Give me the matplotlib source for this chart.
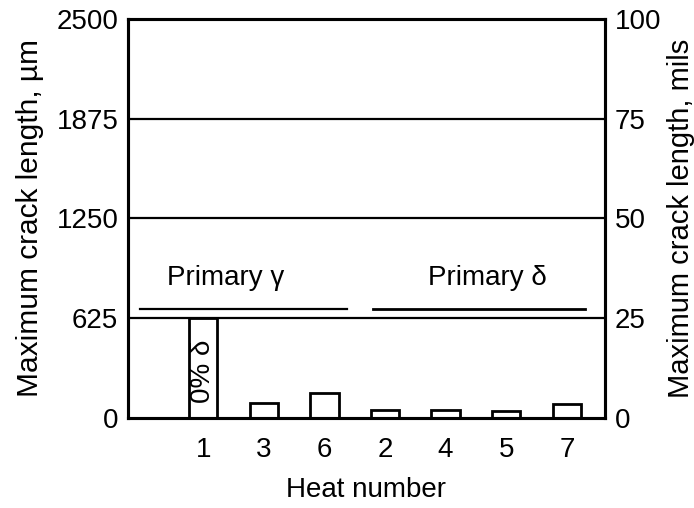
import matplotlib.pyplot as plt

plt.rcParams['font.family'] = ['Liberation Sans', 'DejaVu Sans']

# data
heat_labels = ['1', '3', '6', '2', '4', '5', '7']
crack_um = [625, 95, 155, 50, 50, 45, 90]
y_ticks_um = [0, 625, 1250, 1875, 2500]
y_ticks_mils = [0, 25, 50, 75, 100]

fs = 20

fig = plt.figure(figsize=(6.94, 5.08), dpi=100)
ax = fig.add_axes([128 / 694, 1 - 418 / 508, 477 / 694, 399 / 508])

pos = list(range(1, len(heat_labels) + 1))
ax.bar(pos, crack_um, width=0.47, facecolor='white', edgecolor='black', linewidth=2)

for y in y_ticks_um[1:-1]:
    ax.axhline(y, color='black', linewidth=1.6, zorder=3)

ax.set_xlim(-0.24, 7.63)
ax.set_ylim(0, 2500)
ax.set_xticks(pos)
ax.set_xticklabels(heat_labels)
ax.set_yticks(y_ticks_um)
ax.tick_params(axis='both', length=0, labelsize=fs)
ax.tick_params(axis='x', pad=14)
ax.tick_params(axis='y', pad=7)
for s in ax.spines.values():
    s.set_linewidth(2.2)

ax.set_xlabel('Heat number', fontsize=fs, labelpad=10)
ax.set_ylabel('Maximum crack length, µm', fontsize=21.5, labelpad=9)

# group labels
ax.plot([-0.04, 3.37], [683, 683], color='black', linewidth=1.6)
ax.plot([3.8, 7.3], [683, 683], color='black', linewidth=2)
ax.text(0.40, 833, 'Primary γ', ha='left', va='baseline', fontsize=fs)
ax.text(4.71, 833, 'Primary δ', ha='left', va='baseline', fontsize=fs)
ax.text(1, 294, '0% δ', rotation=90, ha='center', va='center', fontsize=fs)

ax2 = ax.twinx()
ax2.set_ylim(0, 100)
ax2.set_yticks(y_ticks_mils)
ax2.tick_params(axis='y', length=0, labelsize=fs, pad=7)
ax2.set_ylabel('Maximum crack length, mils', fontsize=21, labelpad=4)
for s in ax2.spines.values():
    s.set_linewidth(2.2)

fig.savefig('out.png', dpi=100)
